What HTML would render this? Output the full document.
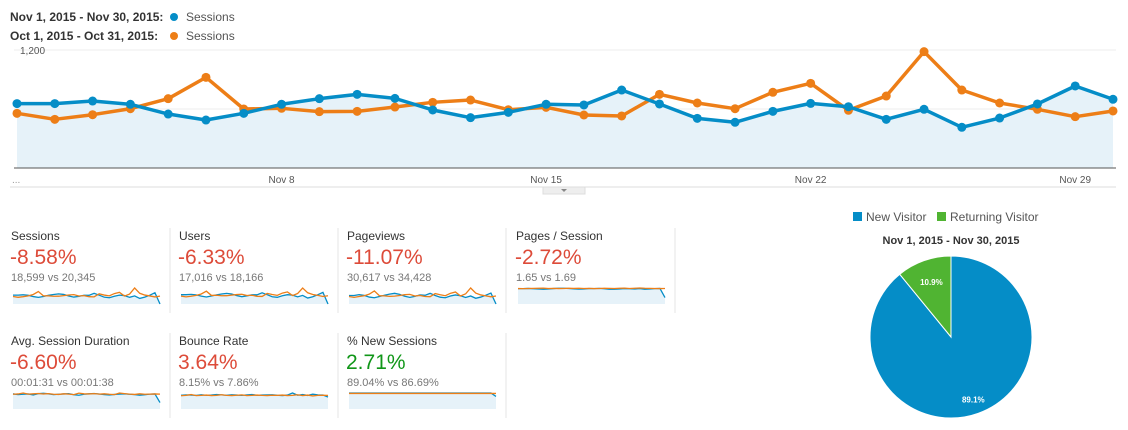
<!DOCTYPE html>
<html><head><meta charset="utf-8">
<style>
body{margin:0;background:#fff;font-family:"Liberation Sans",Arial,sans-serif;}
svg text{font-family:"Liberation Sans",Arial,sans-serif;}
</style></head>
<body>
<svg id="root" width="1128" height="425" viewBox="0 0 1128 425" xmlns="http://www.w3.org/2000/svg">
  <g>
    <text x="10" y="21" font-size="12" font-weight="bold" fill="#333">Nov 1, 2015 - Nov 30, 2015:</text>
    <circle cx="174" cy="17" r="4" fill="#058dc7"/>
    <text x="186" y="21" font-size="12" fill="#555">Sessions</text>
    <text x="10" y="40" font-size="12" font-weight="bold" fill="#333">Oct 1, 2015 - Oct 31, 2015:</text>
    <circle cx="174" cy="36" r="4" fill="#ed7e17"/>
    <text x="186" y="40" font-size="12" fill="#555">Sessions</text>
  </g>
  <g id="main"></g>
  <g id="panels"></g>
  <g id="pie"></g>
</svg>
<script>
const NS="http://www.w3.org/2000/svg";
const currentSessions=[655,655,681,648,549,488,556,648,705,749,708,590,512,566,648,641,793,651,505,465,576,657,623,495,597,414,508,651,834,699];
const previousSessions=[556,495,542,603,705,922,600,607,573,576,620,668,691,593,617,539,529,749,661,603,770,861,587,732,1183,793,661,597,522,580];
const yTicks=[600,1200];
const xTickLabels=["Nov 8","Nov 15","Nov 22","Nov 29"];
const xTickIndex=[7,14,21,28];
const pieLabels=["New Visitor","Returning Visitor"];
const pieValues=[89.1,10.9];
const metricNames=["Sessions","Users","Pageviews","Pages / Session","Avg. Session Duration","Bounce Rate","% New Sessions"];
const metricChanges=["-8.58%","-6.33%","-11.07%","-2.72%","-6.60%","3.64%","2.71%"];
const metricCompare=["18,599 vs 20,345","17,016 vs 18,166","30,617 vs 34,428","1.65 vs 1.69","00:01:31 vs 00:01:38","8.15% vs 7.86%","89.04% vs 86.69%"];
const metricGood=[false,false,false,false,false,false,true];
const sparkCur=[
[655,655,681,648,549,488,556,648,705,749,708,590,512,566,648,641,793,651,505,465,576,657,623,495,597,414,508,651,834,0],
[640,640,660,630,540,480,550,630,690,730,690,580,505,560,630,630,770,640,500,460,570,640,610,490,590,410,500,640,800,0],
[640,640,700,650,520,470,560,660,740,800,720,580,500,570,680,650,800,640,510,470,600,680,620,490,600,430,520,660,820,0],
[1.66,1.66,1.68,1.65,1.62,1.6,1.63,1.67,1.7,1.7,1.68,1.64,1.61,1.63,1.67,1.66,1.69,1.65,1.6,1.6,1.63,1.67,1.65,1.62,1.66,1.6,1.62,1.66,1.68,0.7],
[95,90,92,94,88,96,98,95,90,92,94,96,89,86,92,95,97,94,90,88,91,93,95,92,90,86,89,93,94,40],
[8.0,8.2,8.1,7.9,8.3,8.0,8.1,8.4,8.2,8.0,8.3,8.1,7.9,8.2,8.4,8.0,8.1,8.2,8.3,8.0,7.8,8.1,9.3,8.0,8.4,7.9,8.6,8.2,8.1,7.0],
[89,89,89,89,89,89,89,89,89,89,89,89,89,89,89,89,89,89,89,89,89,89,89,89,89,89,89,89,89,70]];
const sparkPrev=[
[556,495,542,603,705,922,600,607,573,576,620,668,691,593,617,539,529,749,661,603,770,861,587,732,1183,793,661,597,522,580],
[540,490,530,590,690,880,590,600,565,570,610,650,670,585,600,530,520,730,650,595,750,830,580,720,1100,770,650,590,515,570],
[560,500,560,620,740,980,620,610,570,590,640,700,720,600,640,560,550,780,690,620,800,900,600,760,1200,820,680,610,540,600],
[1.67,1.66,1.68,1.69,1.7,1.72,1.68,1.69,1.67,1.68,1.7,1.69,1.7,1.68,1.69,1.67,1.68,1.7,1.69,1.68,1.7,1.72,1.68,1.7,1.73,1.7,1.69,1.68,1.67,1.68],
[92,94,100,93,95,97,94,96,92,91,95,93,90,99,95,94,96,93,95,92,90,100,96,93,91,95,92,93,94,93],
[7.7,7.9,8.4,7.8,7.9,8.1,7.8,7.9,8.3,7.9,7.8,8.0,8.2,7.8,7.9,8.1,7.9,7.8,8.0,7.9,8.1,7.8,7.9,8.3,7.8,8.1,7.6,7.9,8.0,7.9],
[86.7,86.7,86.7,86.7,86.7,86.7,86.7,86.7,86.7,86.7,86.7,86.7,86.7,86.7,86.7,86.7,86.7,86.7,86.7,86.7,86.7,86.7,86.7,86.7,86.7,86.7,86.7,86.7,86.7,86.7]];

function mk(tag,attrs,parent,txt){const e=document.createElementNS(NS,tag);for(const k in attrs)e.setAttribute(k,attrs[k]);if(txt!=null)e.textContent=txt;parent.appendChild(e);return e;}

// main chart
const main=document.getElementById('main');
const X0=17,X1=1113,Y0=168,YMAX=1200,YTOP=50;
const xs=i=>X0+i*(X1-X0)/(currentSessions.length-1);
const ys=v=>Y0-v/YMAX*(Y0-YTOP);
yTicks.forEach(t=>{
  const g=mk('line',{x1:14,x2:1116,y1:ys(t),y2:ys(t),stroke:'#eeeeee','stroke-width':1},main);
  
  
  const l=mk('text',{x:20,y:ys(t)+4+(t===600?0:0),'font-size':10,fill:'#555'},main,t.toLocaleString('en-US'));
  
  
});
let area='M'+xs(0)+','+Y0;
currentSessions.forEach((v,i)=>{area+=' L'+xs(i)+','+ys(v);});
area+=' L'+xs(currentSessions.length-1)+','+Y0+' Z';
const ar=mk('path',{d:area,fill:'#e6f2f9'},main);


mk('line',{x1:14,x2:1116,y1:Y0,y2:Y0,stroke:'#555','stroke-width':1},main);
mk('line',{x1:10,x2:1116,y1:187,y2:187,stroke:'#ddd','stroke-width':1},main);
const tab=mk('rect',{x:543,y:187,width:42,height:7,fill:'#eee',stroke:'#ddd'},main);


mk('path',{d:'M561,189 L567,189 L564,192 Z',fill:'#888'},main);
mk('text',{x:12,y:183,'font-size':10,fill:'#999'},main,'...');
xTickLabels.forEach((t,k)=>{
  const e=mk('text',{x:xs(xTickIndex[k]),y:183,'font-size':10,fill:'#555','text-anchor':'middle'},main,t);
  
  
});
function series(data,color,name){
  let d='';data.forEach((v,i)=>{d+=(i?' L':'M')+xs(i)+','+ys(v);});
  const p=mk('path',{d:d,fill:'none',stroke:color,'stroke-width':3.5,'stroke-linejoin':'round'},main);
  
  
  data.forEach((v,i)=>{
    const c=mk('circle',{cx:xs(i),cy:ys(v),r:4.5,fill:color},main);
    
    
  });
}
series(previousSessions,'#ed7e17','previous-sessions');
series(currentSessions,'#058dc7','current-sessions');

// panels
const panels=document.getElementById('panels');
const colX=[11,179,347,516];
metricNames.forEach((name,m)=>{
  const col=m<4?m:m-4,row=m<4?0:1;
  const px=colX[col],py=row*105;
  const g=mk('g',{},panels);
  
  
  mk('text',{x:px,y:240+py,'font-size':12,fill:'#333'},g,name);
  const c=mk('text',{x:px-1,y:264+py,'font-size':21,fill:metricGood[m]?'#109618':'#dd4b39'},g,metricChanges[m]);
  
  mk('text',{x:px,y:281+py,'font-size':11,fill:'#777'},g,metricCompare[m]);
  const sx0=px+2,sx1=px+149,sTop=288+py,sBot=304+py;
  const all=sparkCur[m].concat(sparkPrev[m]);
  const mx=Math.max.apply(null,all);
  const sxf=i=>sx0+i*(sx1-sx0)/29;
  const syf=v=>sBot-v/mx*(sBot-sTop);
  let a='M'+sx0+','+sBot;sparkCur[m].forEach((v,i)=>a+=' L'+sxf(i)+','+syf(v));a+=' L'+sx1+','+sBot+' Z';
  mk('path',{d:a,fill:'#e6f2f9'},g);
  [[sparkCur[m],'#058dc7'],[sparkPrev[m],'#ed7e17']].forEach(([arr,col])=>{
    let d='';arr.forEach((v,i)=>d+=(i?' L':'M')+sxf(i)+','+syf(v));
    const p=mk('path',{d:d,fill:'none',stroke:col,'stroke-width':1.3},g);
    
    
  });
  const sep=mk('line',{x1:px+159,x2:px+159,y1:228+py,y2:313+py,stroke:'#e5e5e5','stroke-width':1},g);
  
  
});
// separator after empty slot in row 2
mk('line',{x1:506,x2:506,y1:333,y2:418,stroke:'#e5e5e5'},panels);

// pie
const pie=document.getElementById('pie');
const pieColors=['#058dc7','#50b432'];
const legX=[853,937];
pieLabels.forEach((l,i)=>{
  const r=mk('rect',{x:legX[i],y:212,width:9,height:9,fill:pieColors[i]},pie);
  
  
  const t=mk('text',{x:legX[i]+13,y:221,'font-size':12,fill:'#555'},pie,l);
  
  
});
mk('text',{x:951,y:244,'font-size':11,'font-weight':'bold',fill:'#333','text-anchor':'middle'},pie,'Nov 1, 2015 - Nov 30, 2015');
const CX=951,CY=337,R=81;
const total=pieValues.reduce((a,b)=>a+b,0);
let ang=0;
pieValues.forEach((v,i)=>{
  const sweep=v/total*2*Math.PI;
  const a0=ang,a1=ang+sweep;ang=a1;
  const p0=[CX+R*Math.sin(a0),CY-R*Math.cos(a0)],p1=[CX+R*Math.sin(a1),CY-R*Math.cos(a1)];
  const d='M'+CX+','+CY+' L'+p0[0]+','+p0[1]+' A'+R+','+R+' 0 '+(sweep>Math.PI?1:0)+' 1 '+p1[0]+','+p1[1]+' Z';
  const s=mk('path',{d:d,fill:pieColors[i],stroke:'#fff','stroke-width':1},pie);
  
  
  const mid=(a0+a1)/2,lr=R*(i===0?0.82:0.72);
  const t=mk('text',{x:CX+lr*Math.sin(mid),y:CY-lr*Math.cos(mid)+3,'font-size':8,'font-weight':'bold',fill:'#fff','text-anchor':'middle'},pie,v.toFixed(1)+'%');
  
  
});
</script>
</body></html>
